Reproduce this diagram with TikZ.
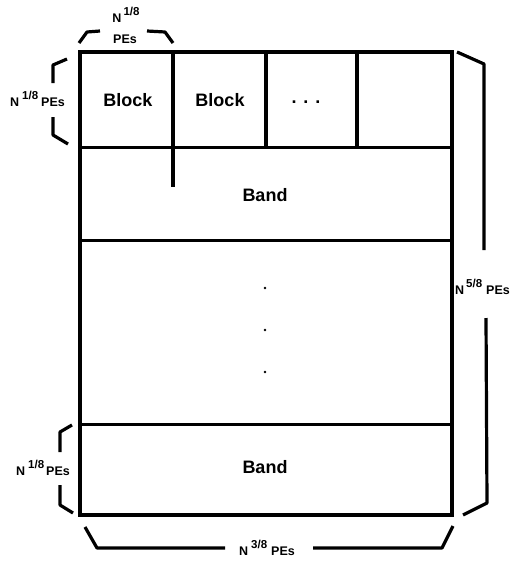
\documentclass[tikz,border=0pt]{standalone}
\usepackage{fontspec}
\setmainfont{Liberation Sans}
\usetikzlibrary{positioning}

% raised exponent of N
\newcommand{\pexp}[1]{\raisebox{7pt}{\fontsize{11.5}{11.5}\selectfont #1}}

\begin{document}
\begin{tikzpicture}[
      x=1pt, y=-1pt,
      frame/.style={line width=3.2pt},
      rule/.style={line width=3pt},
      brace/.style={line width=3.2pt, line join=round},
      cell/.style={font=\fontsize{18}{18}\selectfont\bfseries},
      dim/.style={font=\fontsize{12.5}{12.5}\selectfont\bfseries, inner sep=0pt}
    ]
    \useasboundingbox (0,0) rectangle (514,562);

    % Cornice e bande
    \draw[frame] (80,52) rectangle (452,515);
    \draw[rule] (80,147) -- (452,147);
    \draw[rule] (80,240) -- (452,240);
    \draw[rule] (80,424) -- (452,424);

    % Divisioni dei blocchi
    \draw[frame] (173,52) -- (173,187);
    \foreach \x in {266,357} \draw[frame] (\x,52) -- (\x,147);

    % Testi
    \node[cell] (blockA) at (128,100) {Block};
    \node[cell] (blockB) at (220,100) {Block};
    \node[cell, anchor=base] (blockdots) at (306,103) {.\hspace{7pt}.\hspace{7pt}.};
    \node[cell] (bandtop) at (265,195) {Band};
    \node[cell] (bandbot) at (265,467) {Band};
    \foreach \y in {288,330,372} \fill (265,\y) circle (1.3);

    % Parentesi
    \draw[brace] (79,43) -- (87,32) -- (100,31);
    \draw[brace] (147,31) -- (165,32) -- (173,43);
    \draw[brace] (67,59) -- (53,65) -- (53,83);
    \draw[brace] (53,117) -- (53,135) -- (68,144);
    \draw[brace] (72,425) -- (60,432) -- (60,452);
    \draw[brace] (60,485) -- (60,505) -- (73,513);
    \draw[brace] (85,527) -- (97,548) -- (225,548);
    \draw[brace] (313,548) -- (442,548) -- (453,526);
    \draw[brace] (457,52) -- (484,64) -- (484,250);
    \draw[brace] (486,318) -- (487,503) -- (463,515);

    % Dimensioni
    \node[dim, anchor=base] (topN) at (126,23) {N\hspace{2pt}\pexp{1/8}};
    \node[dim, anchor=base] (topPEs) at (125,43) {PEs};
    \node[dim, anchor=base west] (leftN) at (10,106) {N\hspace{3pt}\pexp{1/8}\hspace{3pt}PEs};
    \node[dim, anchor=base west] (lowN) at (16,475) {N\hspace{3pt}\pexp{1/8}\hspace{2pt}PEs};
    \node[dim, anchor=base west] (botN) at (239,555) {N\hspace{3pt}\pexp{3/8}\hspace{4pt}PEs};
    \node[dim, anchor=base west] (rightN) at (455,294) {N\hspace{2pt}\pexp{5/8}\hspace{4pt}PEs};
  \end{tikzpicture}
\end{document}
